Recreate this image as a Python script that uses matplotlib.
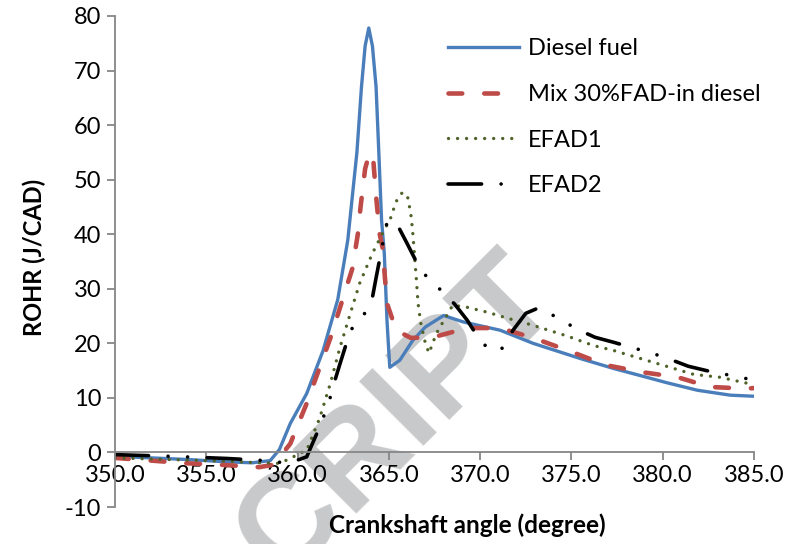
import numpy as np
import matplotlib
matplotlib.use("Agg")
import matplotlib.pyplot as plt

plt.rcParams['font.family'] = ['Lato', 'DejaVu Sans']
plt.rcParams['axes.unicode_minus'] = False

# Diesel fuel
x_diesel = [350, 352, 354, 356, 357.5, 358.5, 359.0, 359.6, 360.5, 361.4, 362.2,
            362.75, 363.25, 363.5, 363.7, 363.9, 364.1, 364.3, 364.45, 364.6, 364.75,
            364.9, 365.05, 365.6, 366.3, 367.0, 368.0, 369.1, 371.1, 372.9, 375.5,
            377.3, 379.1, 380.2, 381.9, 382.7, 383.7, 385]
y_diesel = [-0.7, -1.0, -1.3, -1.7, -1.9, -1.5, 0.5, 5.3, 10.8, 18.7, 28.0,
            38.9, 55, 67, 74.5, 77.8, 74.5, 67, 55, 42.6, 36.5,
            24, 15.6, 16.9, 20.5, 23.0, 25.1, 23.9, 22.4, 20.0, 17.2,
            15.4, 13.8, 12.8, 11.4, 11.0, 10.5, 10.3]

# Mix 30%FAD-in diesel
x_mix = [350, 352, 354, 356, 357.9, 358.6, 359.1, 359.6, 360.5, 361.8, 363.0, 363.3,
         363.45, 363.7, 363.95, 364.15, 364.3, 364.5, 364.65, 364.9, 365.4, 366.2,
         367.4, 369.3, 371.1, 372.9, 374.8, 376.9, 378.9, 380.8, 382.6, 384.6, 385]
y_mix = [-1.0, -1.5, -2.0, -2.3, -2.7, -2.3, -0.5, 1.6, 9.0, 21.0, 33.7, 40,
         45, 52, 55, 53.5, 47, 40, 37.6, 27.3, 22.4, 21.0,
         21.1, 22.8, 22.8, 21.0, 18.7, 16.0, 14.7, 13.8, 12.0, 11.7, 11.8]

# EFAD1
x_efad1 = [350, 352, 354, 356, 358, 359.0, 359.6, 360.1, 360.5, 361.2, 361.8, 362.3,
           362.8, 363.4, 364.1, 364.6, 365.1, 365.4, 365.7, 366.0, 366.2, 366.3,
           366.5, 366.6, 366.75, 367.0, 367.2, 367.6, 368.5, 369.3, 370.4, 371.5,
           372.9, 374.8, 376.2, 377.3, 379.1, 380.6, 381.7, 383.1, 384.6, 385]
y_efad1 = [-1.0, -1.2, -1.4, -1.6, -1.9, -2.0, -1.1, -0.2, 0.4, 6.2, 12.7, 19.0,
           24.5, 31.0, 36.5, 39.8, 43.0, 46.0, 47.5, 47.3, 43.8, 40.7,
           32.0, 27.3, 23.7, 20.0, 18.2, 21.8, 27.0, 26.6, 25.7, 24.6,
           23.3, 21.3, 19.6, 18.7, 16.9, 15.4, 14.3, 13.8, 12.7, 12.5]

# EFAD2
x_efad2 = [350, 353, 356.1, 358.3, 359.5, 360.5, 361.2, 361.7, 362.0, 362.3, 362.9,
           363.6, 364.1, 364.3, 364.7, 364.9, 365.2, 365.5, 366.0, 366.5, 367.0, 367.8,
           368.6, 369.3, 370.0, 370.6, 371.2, 371.8, 372.5, 373.2, 374.3, 375.3,
           376.3, 377.3, 379.4, 380.3, 381.4, 382.4, 384.5, 385]
y_efad2 = [-0.4, -0.7, -1.1, -1.5, -2.0, -0.8, 4.6, 9.0, 12.7, 16.0, 22.4,
           25.0, 28.4, 32.0, 38.9, 42.2, 42.5, 41.5, 38.3, 35.0, 32.5, 29.9,
           27.2, 24.2, 20.5, 18.6, 19.1, 22.4, 25.5, 26.5, 24.6, 22.6,
           21.1, 20.2, 18.2, 17.2, 15.8, 15.0, 13.6, 13.2]

labels = ['Diesel fuel', 'Mix 30%FAD-in diesel', 'EFAD1', 'EFAD2']
xticks = [350, 355, 360, 365, 370, 375, 380, 385]
yticks = [-10, 0, 10, 20, 30, 40, 50, 60, 70, 80]

W, H = 802, 544
fig = plt.figure(figsize=(W / 100, H / 100), dpi=100)
ax = fig.add_axes([115 / W, 1 - 507 / H, (754 - 115) / W, (507 - 16) / H])
ax.patch.set_facecolor('none')

# watermark behind everything
fig.text(398 / W, 1 - 418 / H, 'CRIPT', rotation=45, fontsize=95, fontweight='bold',
         color='#c8c9ca', family='Liberation Sans', ha='center', va='center', zorder=-1)

ax.plot(x_diesel, y_diesel, color='#4a7ebb', lw=2.4, label=labels[0],
        solid_joinstyle='round')
ax.plot(x_mix, y_mix, color='#be4b48', lw=3.3, ls=(0, (3.0, 4.8)),
        dash_capstyle='round', label=labels[1])
ax.plot(x_efad1, y_efad1, color='#4f6228', lw=2.4, ls=(0, (0.01, 2.7)),
        dash_capstyle='round', label=labels[2])
ax.plot(x_efad2, y_efad2, color='black', lw=2.6,
        ls=(0, (9.3, 5.4, 0.01, 5.4, 0.01, 5.4)), dash_capstyle='round',
        label=labels[3])

ax.set_xlim(350, 385)
ax.set_ylim(-10, 80)
ax.set_xticks(xticks)
ax.set_xticklabels([f'{v:.1f}' for v in xticks])
ax.set_yticks(yticks)

for s in ['top', 'right']:
    ax.spines[s].set_visible(False)
ax.spines['bottom'].set_position(('data', 0))
for s in ['bottom', 'left']:
    ax.spines[s].set_color('#868686')
    ax.spines[s].set_linewidth(1.3)
ax.tick_params(axis='both', colors='#868686', labelcolor='black', labelsize=17,
               width=1.3, length=6)
ax.tick_params(axis='x', pad=3)
ax.tick_params(axis='y', pad=4)

ax.set_xlabel('Crankshaft angle (degree)', fontsize=17.5, fontweight='bold')
ax.xaxis.label.set_va('center')
ax.xaxis.set_label_coords((467 - 115) / 639, (507 - 525) / 491)
ax.set_ylabel('ROHR (J/CAD)', fontsize=17, fontweight='bold')
ax.yaxis.label.set_va('center')
ax.yaxis.set_label_coords((34 - 115) / 639, (507 - 257) / 491)

ax.legend(loc='upper left', bbox_to_anchor=(448 / W, 1 - 38 / H),
          bbox_transform=fig.transFigure, frameon=False, fontsize=17,
          handlelength=3.0, handletextpad=0.4, labelspacing=1.05,
          borderpad=0, borderaxespad=0)

fig.savefig('out.png', dpi=100)
